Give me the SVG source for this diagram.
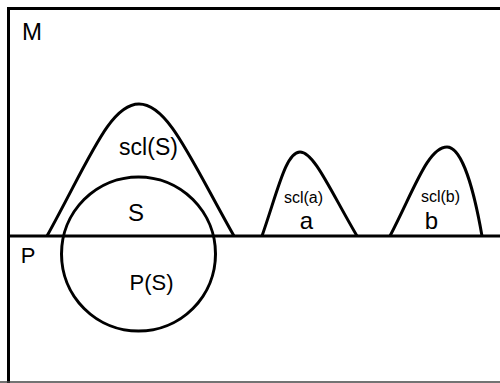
<svg xmlns="http://www.w3.org/2000/svg" width="500" height="383" viewBox="0 0 500 383">
<style>
.ln{fill:none;stroke:#000;stroke-width:3}
.t{font-family:"Liberation Sans",Arial,sans-serif;fill:#000;text-anchor:middle}
</style>
<rect width="500" height="383" fill="#fff"/>
<g id="frame">
<path class="ln" d="M500,8.5 H8.5 V383"/>
<line x1="0" y1="382" x2="500" y2="382" stroke="#444" stroke-width="1.5"/>
</g>
<g id="divider"><line class="ln" x1="8" y1="236" x2="500" y2="236"/></g>
<g id="M"><text class="t" x="32" y="40" font-size="24">M</text></g>
<g id="P"><text class="t" x="28" y="263" font-size="22">P</text></g>
<g id="sclS">
<path class="ln" d="M47,236 C90,158 110,104 139,104 C168,104 190,158 234,236"/>
<text class="t" x="148.5" y="155" font-size="23">scl(S)</text>
</g>
<g id="S">
<circle class="ln" cx="138.5" cy="254" r="77"/>
<text class="t" x="136" y="221" font-size="24">S</text>
<text class="t" x="151.5" y="290" font-size="22">P(S)</text>
</g>
<g id="a">
<path class="ln" d="M262,236 C278,190 286,152 300,152 C314,152 330,190 357,236"/>
<text class="t" x="303.5" y="203" font-size="16">scl(a)</text>
<text class="t" x="306.5" y="229" font-size="24">a</text>
</g>
<g id="b">
<path class="ln" d="M390,236 C414,190 428,147 447,147 C462,147 474,190 482,236"/>
<text class="t" x="440.5" y="202" font-size="16">scl(b)</text>
<text class="t" x="431.5" y="229" font-size="24">b</text>
</g>
</svg>
